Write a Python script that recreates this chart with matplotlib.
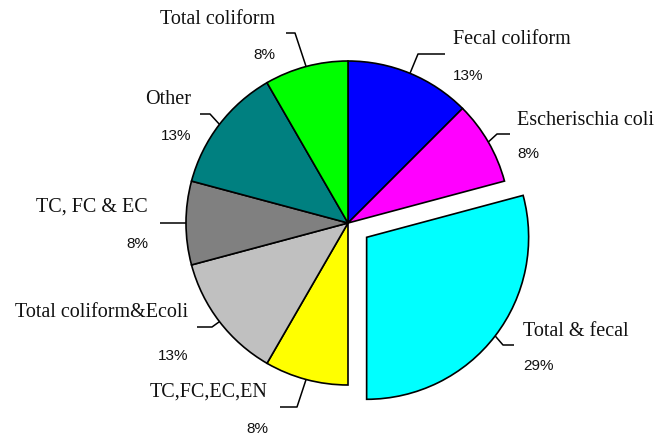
import numpy as np
import matplotlib
matplotlib.use("Agg")
import matplotlib.pyplot as plt

# ============================================================
# Data (number of studies per indicator group)
# ============================================================

groups = [
    "Fecal coliform",
    "Escherischia coli",
    "Total & fecal",
    "TC,FC,EC,EN",
    "Total coliform&Ecoli",
    "TC, FC & EC",
    "Other",
    "Total coliform",
]
counts = [3, 2, 7, 2, 3, 2, 3, 2]
colors = ["#0000FF", "#FF00FF", "#00FFFF", "#FFFF00",
          "#C0C0C0", "#808080", "#008080", "#00FF00"]
explode_frac = [0, 0, 0.145, 0, 0, 0, 0, 0]

total = sum(counts)
pct_labels = [f"{int(100 * c / total + 0.5)}%" for c in counts]

# ============================================================
# Label layout (pixel coords, y measured from top)
# text anchor x, alignment, name baseline, pct baseline, leader elbow/end
# ============================================================

W, H = 667, 436
CX, CY, R = 348, 223, 162

label_layout = [
    (453, "left", 44, 80, [(418, 54), (445, 54)]),
    (517, "left", 125, 158, [(497, 134), (510, 134)]),
    (523, "left", 336, 370, [(503, 345), (514, 345)]),
    (268, "right", 397, 433, [(297, 407), (280, 407)]),
    (188, "right", 317, 360, [(212, 327), (197, 327)]),
    (148, "right", 212, 248, [(172, 223), (160, 223)]),
    (191, "right", 104, 140, [(210, 114), (200, 114)]),
    (275, "right", 24, 59, [(295, 33), (286, 33)]),
]

# ============================================================
# Figure
# ============================================================

fig = plt.figure(figsize=(W / 100, H / 100), dpi=100)
ax = fig.add_axes([0, 0, 1, 1])

# explode is given in data units by pie(), so scale by the radius
wedges, _ = ax.pie(
    counts,
    colors=colors,
    explode=[e * R for e in explode_frac],
    startangle=90,
    counterclock=False,
    radius=R,
    center=(CX, H - CY),
    wedgeprops=dict(edgecolor="black", linewidth=1.2),
)

# pie() resets the limits, so set the pixel frame afterwards
ax.set_xlim(0, W)
ax.set_ylim(0, H)
ax.set_aspect("equal")
ax.axis("off")

# ------------------------------------------------------------
# Labels with leader lines
# ------------------------------------------------------------

for w, name, pct, lay in zip(wedges, groups, pct_labels, label_layout):
    x, ha, yb_name, yb_pct, pts = lay
    mid = np.deg2rad((w.theta1 + w.theta2) / 2)
    cx, cy = w.center
    sx = cx + w.r * np.cos(mid)
    sy = cy + w.r * np.sin(mid)

    xs = [sx] + [p[0] for p in pts]
    ys = [sy] + [H - p[1] for p in pts]
    ax.plot(xs, ys, color="black", linewidth=1.1, solid_capstyle="butt")

    ax.text(x, H - yb_name, name, ha=ha, va="baseline",
            fontsize=14.5, family="Liberation Serif", color="#111111")
    ax.text(x, H - yb_pct, pct, ha=ha, va="baseline",
            fontsize=11, family="Liberation Sans", color="#111111")

fig.savefig("out.png", dpi=100)
